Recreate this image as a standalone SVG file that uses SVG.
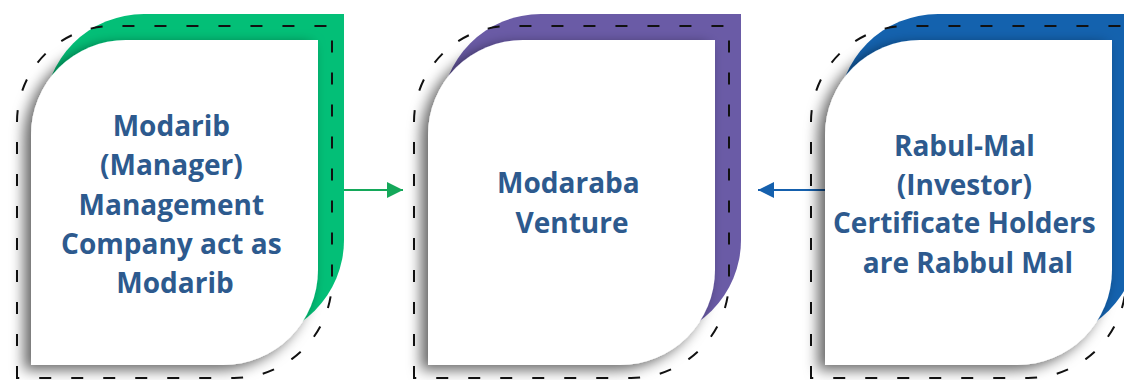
<svg xmlns="http://www.w3.org/2000/svg" width="1124" height="380" viewBox="0 0 1124 380">
  <defs>
    <style>
      .dash { fill: none; stroke: #111; stroke-width: 2; stroke-dasharray: 12 20; }
      .card { fill: #ffffff; filter: url(#shadow); }
      .label { font-family: "Open Sans", "Liberation Sans", sans-serif; font-weight: 700; font-size: 28px; fill: #2d5a8e; text-anchor: middle; }
    </style>
    <filter id="shadow" x="-25%" y="-20%" width="150%" height="145%">
      <feDropShadow dx="-7" dy="5" stdDeviation="7" flood-color="#000" flood-opacity="0.6"/>
    </filter>
    <path id="back" d="M44,340 V114 A100,100 0 0 1 144,14 H344 V240 A100,100 0 0 1 244,340 Z"/>
    <path id="outline" d="M17,378 V122 A96,96 0 0 1 113,26 H332 V280 A98,98 0 0 1 234,378 Z"/>
    <path id="front" d="M31,365 V135 A95,95 0 0 1 126,40 H318 V270 A95,95 0 0 1 223,365 Z"/>
    <marker id="arrowGreen" viewBox="0 0 16 16" refX="16" refY="8" markerWidth="16" markerHeight="16" markerUnits="userSpaceOnUse" orient="auto">
      <path d="M0,0 L16,8 L0,16 Z" fill="#14a85a"/>
    </marker>
    <marker id="arrowBlue" viewBox="0 0 16 16" refX="16" refY="8" markerWidth="16" markerHeight="16" markerUnits="userSpaceOnUse" orient="auto">
      <path d="M0,0 L16,8 L0,16 Z" fill="#1560ad"/>
    </marker>
  </defs>
  <rect width="1124" height="380" fill="#ffffff"/>

  <g id="connectors">
    <line x1="344" y1="190" x2="403" y2="190" stroke="#14a85a" stroke-width="2.2" marker-end="url(#arrowGreen)"/>
    <line x1="826" y1="190" x2="758" y2="190" stroke="#1560ad" stroke-width="2.2" marker-end="url(#arrowBlue)"/>
  </g>

  <g id="node-modarib">
    <use href="#back" fill="#03bf77"/>
    <use href="#outline" class="dash"/>
    <use href="#front" class="card"/>
    <text class="label">
      <tspan x="175" y="136">Modarib</tspan>
      <tspan x="175" y="175">(Manager)</tspan>
      <tspan x="175" y="215">Management</tspan>
      <tspan x="175" y="254">Company act as</tspan>
      <tspan x="175" y="293">Modarib</tspan>
    </text>
  </g>

  <g id="node-venture" transform="translate(397,0)">
    <use href="#back" fill="#6a5ba6"/>
    <use href="#outline" class="dash"/>
    <use href="#front" class="card"/>
    <text class="label">
      <tspan x="175" y="193">Modaraba</tspan>
      <tspan x="175" y="233">Venture</tspan>
    </text>
  </g>

  <g id="node-rabulmal" transform="translate(794,0)">
    <use href="#back" fill="#1462ae"/>
    <use href="#outline" class="dash"/>
    <use href="#front" class="card"/>
    <text class="label">
      <tspan x="174" y="156">Rabul-Mal</tspan>
      <tspan x="174" y="195">(Investor)</tspan>
      <tspan x="174" y="233">Certificate Holders</tspan>
      <tspan x="174" y="273">are Rabbul Mal</tspan>
    </text>
  </g>
</svg>
